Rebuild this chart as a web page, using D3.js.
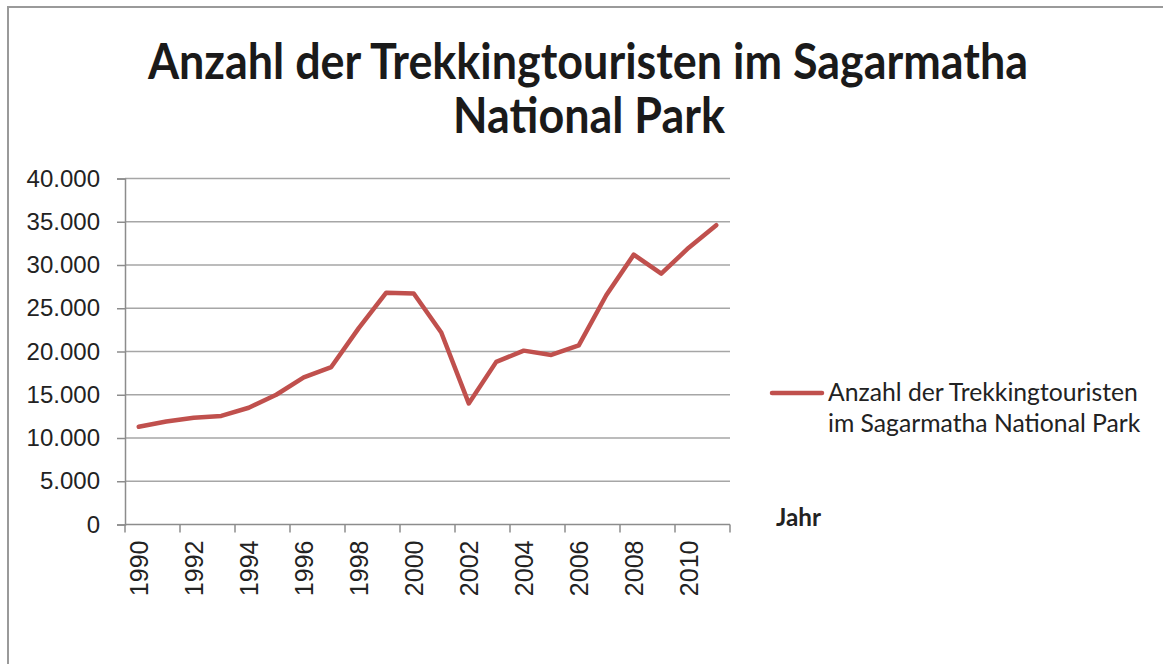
<!DOCTYPE html>
<html>
<head>
<meta charset="utf-8">
<script src="https://cdn.jsdelivr.net/npm/d3@7"></script>
<style>
  html, body { margin: 0; padding: 0; background: #fff; }
  svg { display: block; }
</style>
</head>
<body>
<svg id="chart" width="1163" height="664"></svg>
<script>
width = 1163;
height = 664;

// data
var years = [1990, 1991, 1992, 1993, 1994, 1995, 1996, 1997, 1998, 1999, 2000,
             2001, 2002, 2003, 2004, 2005, 2006, 2007, 2008, 2009, 2010, 2011];
var tourists = [11300, 11900, 12350, 12550, 13500, 15000, 17000, 18200, 22700, 26800, 26700,
                22200, 14000, 18800, 20100, 19600, 20700, 26500, 31200, 29000, 32000, 34600];
var yTicks = [0, 5000, 10000, 15000, 20000, 25000, 30000, 35000, 40000];
var titleLines = ['Anzahl der Trekkingtouristen im Sagarmatha', 'National Park'];
var legendLines = ['Anzahl der Trekkingtouristen', 'im Sagarmatha National Park'];
var axisTitle = 'Jahr';

var lineColor = '#C0504D';
var gridColor = '#a6a6a6';
var axisColor = '#8c8c8c';

var plot = {left: 125, right: 730, top: 178.5, bottom: 524.5};

var de = d3.formatLocale({decimal: ',', thousands: '.', grouping: [3], currency: ['', ' €']});
var fmt = de.format(',d');

const svg = d3.select('#chart');

// outer chart frame
svg.append('rect')
	.attr('x', 8).attr('y', 7)
	.attr('width', width + 20).attr('height', height + 20)
	.attr('fill', '#fff')
	.attr('stroke', '#9a9a9a')
	.attr('stroke-width', 2);

const x = d3.scaleBand()
	.domain(years)
	.range([plot.left, plot.right])
	.paddingInner(0).paddingOuter(0);

const y = d3.scaleLinear()
	.domain([0, 40000])
	.range([plot.bottom, plot.top]);

// fit a text element to a target width by adjusting its font size
function fitText(sel, target){
	const w = sel.node().getComputedTextLength();
	const fs = parseFloat(sel.attr('font-size'));
	sel.attr('font-size', fs * target / w);
}

// title (a little stretched vertically, the original font is narrower)
function titleLine(txt, cx, base){
	const t = svg.append('text')
		.attr('transform', `translate(${cx},${base}) scale(1,1.1)`)
		.attr('text-anchor', 'middle')
		.attr('font-family', 'Lato, "Open Sans", sans-serif')
		.attr('font-weight', 'bold')
		.attr('font-size', 40)
		.attr('fill', '#1a1a1a')
		.text(txt);
	return t;
}
const t1 = titleLine(titleLines[0], 588, 79);
fitText(t1, 880);
const t2 = titleLine(titleLines[1], 589, 133)
	.attr('font-size', t1.attr('font-size'));

// horizontal gridlines
svg.append('g')
	.selectAll('line')
	.data(yTicks.slice(1))
	.join('line')
		.attr('x1', plot.left).attr('x2', plot.right)
		.attr('y1', d => y(d)).attr('y2', d => y(d))
		.attr('stroke', gridColor)
		.attr('stroke-width', 1.5);

// y axis
const yAxis = svg.append('g')
	.attr('transform', `translate(${plot.left},0)`)
	.call(d3.axisLeft(y).tickValues(yTicks).tickFormat(fmt).tickSize(8).tickPadding(17));
yAxis.select('.domain').attr('stroke', axisColor).attr('stroke-width', 1.5);
yAxis.selectAll('.tick line').attr('stroke', axisColor).attr('stroke-width', 1.5);
yAxis.selectAll('.tick text')
	.attr('font-family', '"Liberation Sans", Arial, sans-serif')
	.attr('font-size', 24)
	.attr('fill', '#222');

// x axis baseline
svg.append('line')
	.attr('x1', plot.left).attr('x2', plot.right)
	.attr('y1', plot.bottom).attr('y2', plot.bottom)
	.attr('stroke', axisColor).attr('stroke-width', 1.5);

// x tick marks at every second band boundary
var tickYears = years.filter((d, i) => i % 2 == 0);
var tickPos = tickYears.map(d => x(d)).concat([x.range()[1]]);
svg.append('g')
	.selectAll('line')
	.data(tickPos)
	.join('line')
		.attr('x1', d => d).attr('x2', d => d)
		.attr('y1', plot.bottom).attr('y2', plot.bottom + 8)
		.attr('stroke', axisColor).attr('stroke-width', 1.5);

// x labels, rotated
const xAxis = svg.append('g')
	.attr('transform', `translate(0,${plot.bottom})`)
	.call(d3.axisBottom(x).tickValues(tickYears).tickSize(0));
xAxis.select('.domain').remove();
xAxis.selectAll('.tick text')
	.attr('font-family', '"Liberation Sans", Arial, sans-serif')
	.attr('font-size', 25)
	.attr('fill', '#222')
	.attr('text-anchor', 'end')
	.attr('transform', 'rotate(-90)')
	.attr('x', -16)
	.attr('y', 0)
	.attr('dy', '0.35em');

// data line
const line = d3.line()
	.x((d, i) => x(years[i]) + x.bandwidth() / 2)
	.y(d => y(d));
svg.append('path')
	.datum(tourists)
	.attr('d', line)
	.attr('fill', 'none')
	.attr('stroke', lineColor)
	.attr('stroke-width', 4.5)
	.attr('stroke-linejoin', 'round')
	.attr('stroke-linecap', 'round');

// legend
svg.append('line')
	.attr('x1', 772).attr('x2', 822)
	.attr('y1', 393).attr('y2', 393)
	.attr('stroke', lineColor)
	.attr('stroke-width', 4.5)
	.attr('stroke-linecap', 'round');
const l1 = svg.append('text')
	.attr('x', 828).attr('y', 401)
	.attr('font-family', 'Lato, "Open Sans", sans-serif')
	.attr('font-size', 20)
	.attr('fill', '#222')
	.text(legendLines[0]);
fitText(l1, 310);
svg.append('text')
	.attr('x', 828).attr('y', 432)
	.attr('font-family', 'Lato, "Open Sans", sans-serif')
	.attr('font-size', l1.attr('font-size'))
	.attr('fill', '#222')
	.text(legendLines[1]);

// axis title
const jt = svg.append('text')
	.attr('x', 776).attr('y', 526)
	.attr('font-family', 'Lato, "Open Sans", sans-serif')
	.attr('font-weight', 'bold')
	.attr('font-size', 19)
	.attr('fill', '#222')
	.text(axisTitle);
fitText(jt, 45);
</script>
</body>
</html>
